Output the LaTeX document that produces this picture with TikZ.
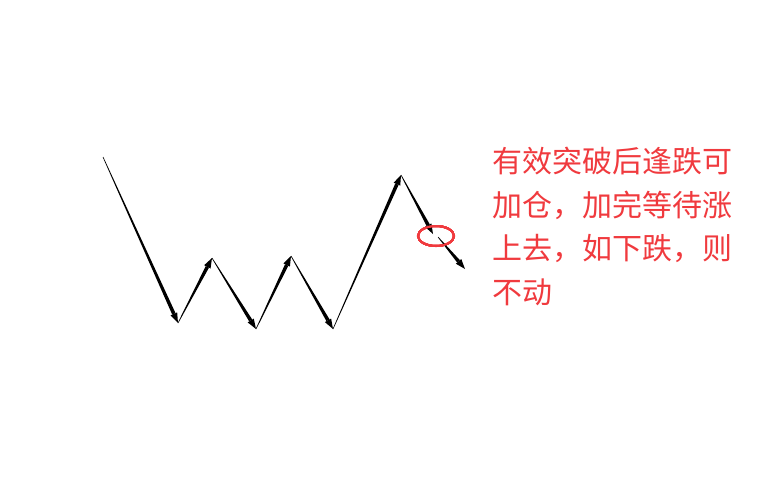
\documentclass[tikz,border=0pt]{standalone}
\usepackage{fontspec}
\newfontfamily\cjk{Noto Sans CJK SC}
\usepackage{xcolor}
\usetikzlibrary{arrows.meta, calc, positioning}
\definecolor{notered}{RGB}{240,58,62}

% tapered stroke with a narrow head at the end
\newcommand{\taper}[2]{%
  \coordinate (hb) at ($(#2)!10pt!(#1)$);
  \fill ($(#1)!0.3pt!90:(#2)$) -- ($(hb)!1.8pt!90:(#2)$) -- ($(hb)!1.8pt!-90:(#2)$) -- ($(#1)!0.3pt!-90:(#2)$) -- cycle;
  \fill (#2) -- ($(hb)!3.6pt!90:(#2)$) -- ($(hb)!3.6pt!-90:(#2)$) -- cycle;
}

\begin{document}
\begin{tikzpicture}[x=1pt, y=-1pt]
  \useasboundingbox (0,0) rectangle (766,496);
  \coordinate (s) at (103,157);
  \coordinate (b1) at (178,323);
  \coordinate (t1) at (212,258);
  \coordinate (b2) at (256,329);
  \coordinate (t2) at (291,256);
  \coordinate (b3) at (333,329);
  \coordinate (t3) at (401,175);
  \coordinate (x1) at (433,234);
  \coordinate (x2) at (438,237);
  \coordinate (e) at (465,269);
  \foreach \a/\b in {s/b1, b1/t1, t1/b2, b2/t2, t2/b3, b3/t3, t3/x1, x2/e}
    \taper{\a}{\b}
  \draw[notered, line width=2pt] (436,236) ellipse [x radius=18, y radius=10];
  \node[text=notered, anchor=north west, inner sep=0pt, align=left,
        font=\cjk\fontsize{30}{43.5}\selectfont] (note) at (492,147)
    {有效突破后逢跌可\\加仓，加完等待涨\\上去，如下跌，则\\不动};
\end{tikzpicture}
\end{document}
